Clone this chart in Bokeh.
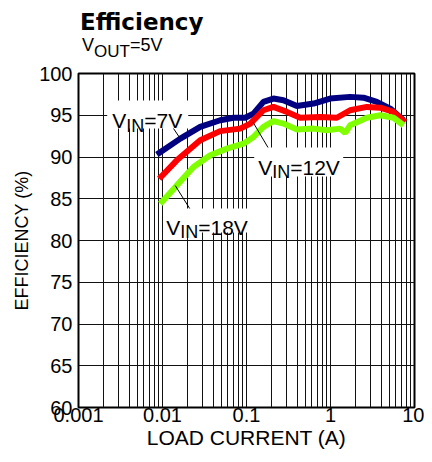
import math
from bokeh.plotting import figure
from bokeh.models import Range1d, FixedTicker, Label, BoxAnnotation, Div
from bokeh.layouts import column
from bokeh.embed import file_html
from bokeh.resources import INLINE

# ---------------- data ----------------
current_7v = [0.00857, 0.0163, 0.0281, 0.0486, 0.070, 0.0966, 0.121, 0.159, 0.209, 0.275,
              0.398, 0.628, 0.99, 1.71, 2.47, 3.56, 5.14, 7.4]
eff_7v = [90.3, 92.2, 93.6, 94.4, 94.7, 94.7, 95.2, 96.6, 97.0, 96.8,
          96.1, 96.4, 97.0, 97.2, 97.1, 96.6, 95.8, 94.4]

current_12v = [0.00914, 0.0148, 0.0281, 0.0486, 0.0841, 0.111, 0.159, 0.209, 0.303, 0.436,
               0.753, 1.19, 1.71, 2.71, 3.91, 5.62, 7.74]
eff_12v = [87.4, 89.6, 92.0, 93.1, 93.4, 94.0, 95.6, 96.0, 95.4, 94.7,
           94.8, 94.7, 95.6, 96.0, 95.9, 95.4, 94.2]

current_18v = [0.0094, 0.0148, 0.0234, 0.037, 0.0585, 0.092, 0.121, 0.159, 0.209, 0.275,
               0.398, 0.628, 0.906, 1.30, 1.50, 1.71, 2.71, 3.91, 5.62, 7.4]
eff_18v = [84.4, 86.6, 88.8, 90.2, 91.0, 91.6, 92.4, 93.6, 94.3, 94.0,
           93.3, 93.4, 93.2, 93.4, 92.9, 93.8, 94.7, 95.0, 94.7, 93.8]

x_ticks = [0.001, 0.01, 0.1, 1, 10]
x_tick_labels = ["0.001", "0.01", "0.1", "1", "10"]
y_ticks = [60, 65, 70, 75, 80, 85, 90, 95, 100]

# ---------------- helpers for annotation placement ----------------
FRAME_L, FRAME_R, FRAME_T, FRAME_B = 78.3, 414.3, 73.0, 407.0


def px(xp, yp):
    """page pixel -> data coordinates (annotation placement only)"""
    lx = (xp - FRAME_L) / ((FRAME_R - FRAME_L) / 4.0) - 3.0
    e = 100.0 - (yp - FRAME_T) / ((FRAME_B - FRAME_T) / 40.0)
    return 10 ** lx, e


ARIAL_W = {"V": .667, "I": .278, "N": .722, "=": .584, "1": .556, "2": .556, "5": .556,
           "7": .556, "8": .556, "O": .778, "U": .722, "T": .611}


def tw(s, size):
    return sum(ARIAL_W.get(c, .556) for c in s) * size


FONT = "Liberation Sans"
HEADER_H = 63

header = Div(text=(
    "<div style=\"position:relative;width:424px;height:63px;\">"
    "<div style=\"position:absolute;left:80px;top:12px;font-family:'DejaVu Sans';"
    "font-weight:bold;font-size:23px;line-height:20px;color:black;white-space:nowrap;\">Efficiency</div>"
    "<div style=\"position:absolute;left:82px;top:38px;font-family:'Liberation Sans';"
    "font-size:18px;line-height:15px;color:black;white-space:nowrap;\">V<span style=\"font-size:17px;"
    "vertical-align:-6px;\">OUT</span>=5V</div>"
    "</div>"), width=424, height=HEADER_H, margin=(0, 0, 0, 0))

p = figure(width=424, height=397, x_axis_type="log",
           x_range=Range1d(0.001, 10), y_range=Range1d(60, 100),
           output_backend="svg", toolbar_location=None,
           min_border_left=78, min_border_right=10, min_border_top=10, min_border_bottom=53,
           background_fill_color="white", border_fill_color="white", margin=(0, 0, 0, 0))

p.outline_line_color = "black"
p.outline_line_width = 2

minor = [m * 10 ** k for k in range(-3, 1) for m in range(2, 10)]
p.xaxis.ticker = FixedTicker(ticks=x_ticks, minor_ticks=minor)
p.xaxis.major_label_overrides = {t: l for t, l in zip(x_ticks, x_tick_labels)}
p.yaxis.ticker = FixedTicker(ticks=y_ticks)
for ax in (p.xaxis[0], p.yaxis[0]):
    ax.axis_line_color = None
    ax.major_tick_out = 0
    ax.major_tick_in = 0
    ax.minor_tick_out = 0
    ax.minor_tick_in = 0
    ax.major_label_text_font = FONT
    ax.major_label_text_font_size = "20px"
    ax.major_label_text_color = "black"
    ax.axis_label_text_font = FONT
    ax.axis_label_text_font_style = "normal"
    ax.axis_label_text_color = "black"
p.xaxis.major_label_standoff = 0
p.yaxis.major_label_standoff = 6
p.xaxis.axis_label = "LOAD CURRENT (A)"
p.xaxis.axis_label_text_font_size = "21px"
p.xaxis.axis_label_standoff = 1
p.yaxis.axis_label = "EFFICIENCY (%)"
p.yaxis.axis_label_text_font_size = "18px"
p.yaxis.axis_label_standoff = 4

p.xgrid.ticker = FixedTicker(ticks=x_ticks, minor_ticks=minor)
p.xgrid.grid_line_color = "#111111"
p.xgrid.grid_line_width = 1
p.xgrid.minor_grid_line_color = "#111111"
p.xgrid.minor_grid_line_width = 1
p.ygrid.ticker = FixedTicker(ticks=y_ticks)
p.ygrid.grid_line_color = "#111111"
p.ygrid.grid_line_width = 1

# ---------------- curves ----------------
p.line(current_7v, eff_7v, line_color="#000080", line_width=6)
p.line(current_12v, eff_12v, line_color="#ff0000", line_width=6)
p.line(current_18v, eff_18v, line_color="#80ff00", line_width=6)

# ---------------- leader lines ----------------
leaders = [((170, 123), (180, 138)), ((253, 122), (269, 149)), ((175, 185), (192, 212))]
x0s, y0s, x1s, y1s = [], [], [], []
for (a, b) in leaders:
    xa, ya = px(*a)
    xb, yb = px(*b)
    x0s.append(xa); y0s.append(ya); x1s.append(xb); y1s.append(yb)
p.segment(x0s, y0s, x1s, y1s, line_color="black", line_width=1)

# ---------------- label boxes + labels ----------------
boxes = [(107, 188, 100, 128), (254, 343, 147, 176), (163, 254, 208, 232)]
for (l, r, t, b) in boxes:
    xl, yt = px(l, t)
    xr, yb = px(r, b)
    p.add_layout(BoxAnnotation(left=xl, right=xr, top=yt, bottom=yb,
                               fill_color="white", fill_alpha=1.0, line_color=None))


def sub_label(xp, yp, main, sub, rest, size, subsize, drop):
    x, y = px(xp, yp)
    off = 0.0
    for txt, sz, dy in ((main, size, 0), (sub, subsize, -drop), (rest, size, 0)):
        p.add_layout(Label(x=x, y=y, x_offset=off, y_offset=dy, text=txt,
                           text_font=FONT, text_font_size=f"{sz}px",
                           text_color="black", text_align="left", text_baseline="alphabetic"))
        off += tw(txt, sz)


sub_label(112, 120, "V", "IN", "=7V", 21, 18, 5)
sub_label(258, 166.5, "V", "IN", "=12V", 21, 18, 5)
sub_label(166, 226.5, "V", "IN", "=18V", 21, 18, 5)

layout = column(header, p, spacing=0)
open("out.html", "w").write(file_html(layout, INLINE))
